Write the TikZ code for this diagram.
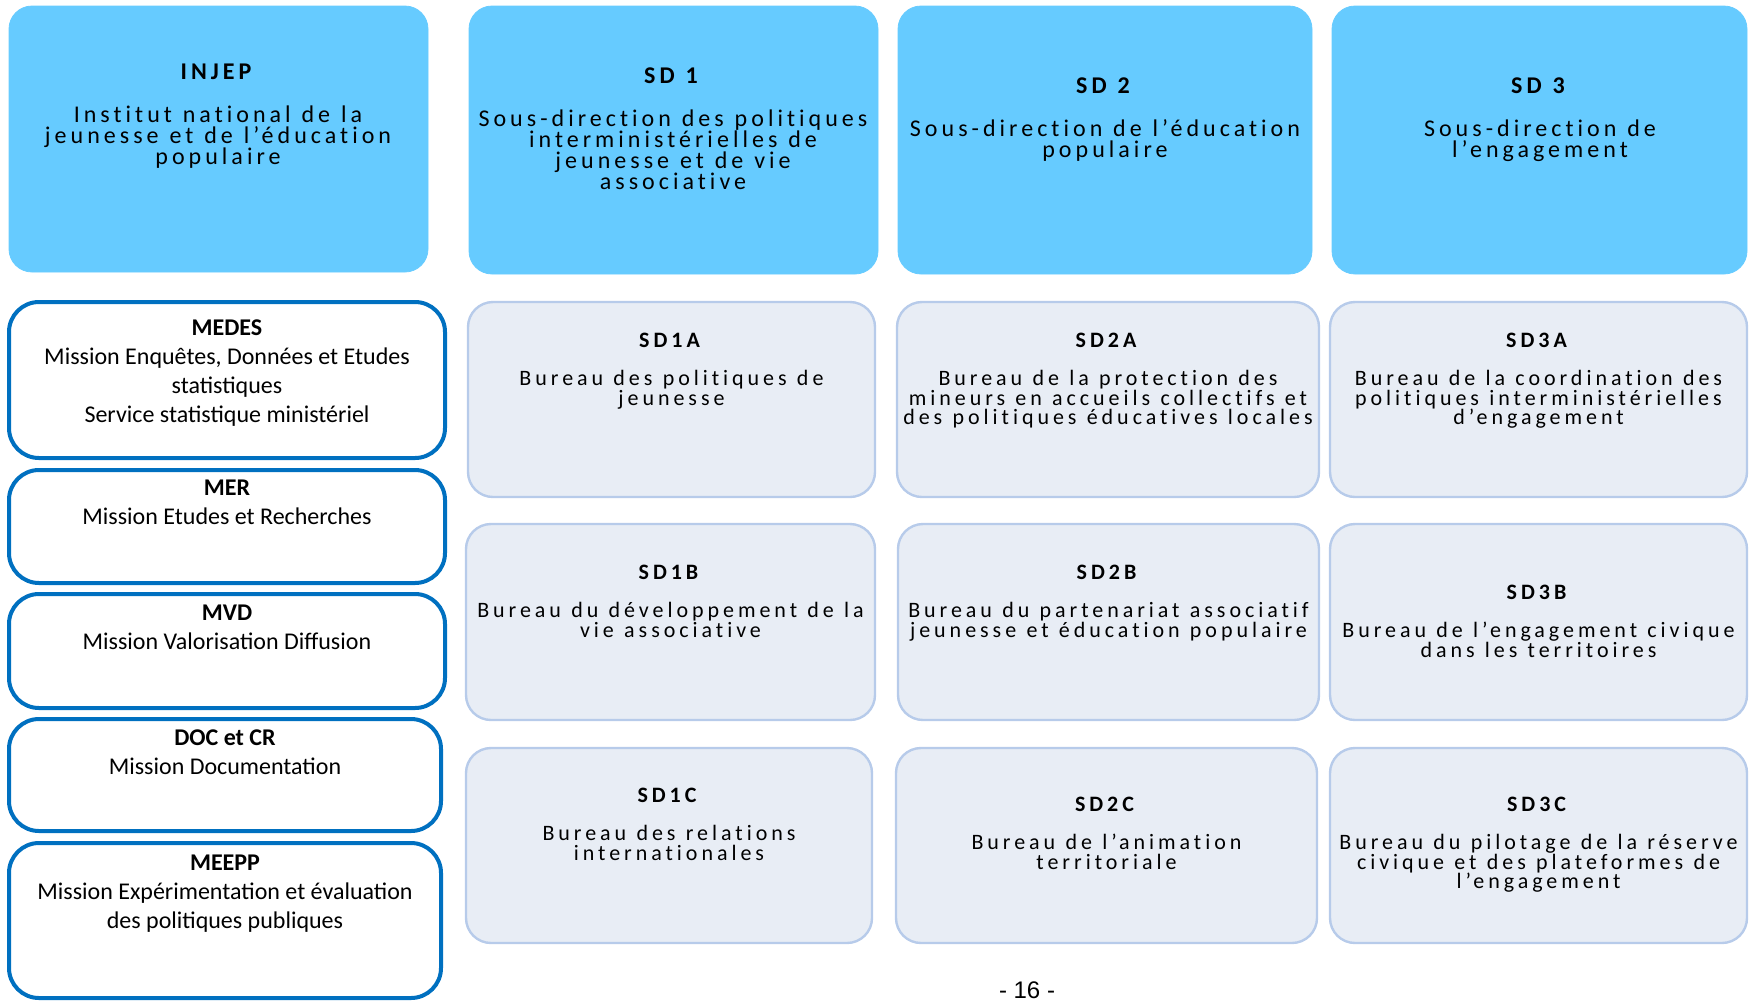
\documentclass[tikz,border=0pt]{standalone}
\usepackage{fontspec}
\setmainfont{Carlito}
\newfontfamily\widefont[LetterSpace=18, Ligatures=NoCommon, WordSpace=1.15]{Carlito}
\newfontfamily\topfont[LetterSpace=16.8, Ligatures=NoCommon, WordSpace=1.15]{Carlito}
\newfontfamily\pagefont{Liberation Sans}
\definecolor{sdblue}{RGB}{102,203,255}
\definecolor{burfill}{RGB}{232,237,245}
\definecolor{burline}{RGB}{183,203,234}
\definecolor{misline}{RGB}{0,112,192}
\tikzset{
  sdbox/.style={draw=sdblue, fill=sdblue, rounded corners=11.5pt},
  burbox/.style={draw=burline, fill=burfill, line width=1.2pt, rounded corners=12.5pt},
  misbox/.style={draw=misline, fill=white, line width=2pt, rounded corners=15pt},
  sdtext/.style={anchor=north, align=center, inner sep=0pt,
    font={\topfont\fontsize{12}{10.5}\selectfont\lineskiplimit-20pt\relax}},
  burtext/.style={anchor=north, align=center, inner sep=0pt,
    font={\widefont\fontsize{11}{9.8}\selectfont\lineskiplimit-20pt\relax}},
  mistext/.style={anchor=north, align=center, inner sep=0pt,
    font={\fontsize{12}{14.5}\selectfont}}
}

\begin{document}
\begin{tikzpicture}[x=0.5pt, y=-0.5pt]
\useasboundingbox (0,0) rectangle (1750,1002);
% direction et sous-directions
\draw [sdbox] (9,6) rectangle (428,272);
\draw [sdbox] (469,6) rectangle (878,274);
\draw [sdbox] (898,6) rectangle (1312,274);
\draw [sdbox] (1332,6) rectangle (1747,274);
\node (injep) at (218,64) [sdtext] {\textbf{INJEP}\\[11pt] Institut national de la\\ jeunesse et de l’éducation\\ populaire};
\node (sdone) at (673,67) [sdtext] {\textbf{SD 1}\\[11pt] Sous-direction des politiques\\ interministérielles de\\ jeunesse et de vie\\ associative};
\node (sdtwo) at (1105,77) [sdtext] {\textbf{SD 2}\\[11pt] Sous-direction de l’éducation\\ populaire};
\node (sdthree) at (1540,77) [sdtext] {\textbf{SD 3}\\[11pt] Sous-direction de\\ l’engagement};
% missions
\draw [misbox] (9,302) rectangle (445,458);
\draw [misbox] (9,470) rectangle (445,583);
\draw [misbox] (9,594) rectangle (445,708);
\draw [misbox] (9,719) rectangle (441,831);
\draw [misbox] (9,843) rectangle (441,998);
\node (medes) at (227,319) [mistext] {\textbf{MEDES}\\ Mission Enquêtes, Données et Etudes\\ statistiques\\ Service statistique ministériel};
\node (mer) at (227,480) [mistext] {\textbf{MER}\\ Mission Etudes et Recherches};
\node (mvd) at (227,605) [mistext] {\textbf{MVD}\\ Mission Valorisation Diffusion};
\node (doc) at (225,729) [mistext] {\textbf{DOC et CR}\\ Mission Documentation};
\node (meepp) at (225,855) [mistext] {\textbf{MEEPP}\\ Mission Expérimentation et évaluation\\ des politiques publiques};
% bureaux
\draw [burbox] (468,302) rectangle (875,497);
\draw [burbox] (897,302) rectangle (1319,497);
\draw [burbox] (1330,302) rectangle (1747,497);
\draw [burbox] (466,524) rectangle (875,720);
\draw [burbox] (898,524) rectangle (1319,720);
\draw [burbox] (1330,524) rectangle (1747,720);
\draw [burbox] (466,748) rectangle (872,943);
\draw [burbox] (896,748) rectangle (1317,943);
\draw [burbox] (1330,748) rectangle (1747,943);
\node (sd1a) at (671.5,333) [burtext] {\textbf{SD1A}\\[9pt] Bureau des politiques de\\ jeunesse};
\node (sd2a) at (1108,333) [burtext] {\textbf{SD2A}\\[9pt] Bureau de la protection des\\ mineurs en accueils collectifs et\\ des politiques éducatives locales};
\node (sd3a) at (1538.5,333) [burtext] {\textbf{SD3A}\\[9pt] Bureau de la coordination des\\ politiques interministérielles\\ d’engagement};
\node (sd1b) at (670.5,565) [burtext] {\textbf{SD1B}\\[9pt] Bureau du développement de la\\ vie associative};
\node (sd2b) at (1108.5,565) [burtext] {\textbf{SD2B}\\[9pt] Bureau du partenariat associatif\\ jeunesse et éducation populaire};
\node (sd3b) at (1538.5,585) [burtext] {\textbf{SD3B}\\[9pt] Bureau de l’engagement civique\\ dans les territoires};
\node (sd1c) at (669,788) [burtext] {\textbf{SD1C}\\[9pt] Bureau des relations\\ internationales};
\node (sd2c) at (1106.5,797) [burtext] {\textbf{SD2C}\\[9pt] Bureau de l’animation\\ territoriale};
\node (sd3c) at (1538.5,797) [burtext] {\textbf{SD3C}\\[9pt] Bureau du pilotage de la réserve\\ civique et des plateformes de\\ l’engagement};
% pied de page
\node (page) at (1027,990) [font={\pagefont\fontsize{12}{14}\selectfont}, inner sep=0pt] {- 16 -};
\end{tikzpicture}
\end{document}
